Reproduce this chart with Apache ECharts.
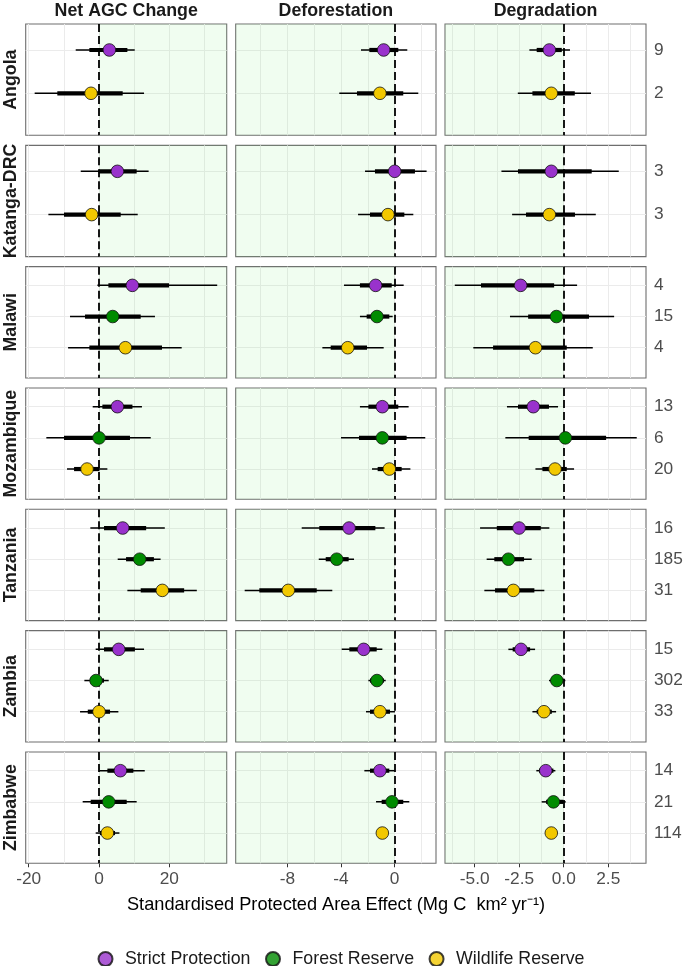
<!DOCTYPE html>
<html><head><meta charset="utf-8">
<script src="https://cdn.jsdelivr.net/npm/echarts@6/dist/echarts.min.js"></script>
<style>html,body{margin:0;padding:0;background:#fff}#c{width:685px;height:966px}</style>
</head><body><div id="c"></div>
<script>
// ---------------- DATA ----------------
const countries = ['Angola','Katanga-DRC','Malawi','Mozambique','Tanzania','Zambia','Zimbabwe'];
const metrics = ['Net AGC Change','Deforestation','Degradation'];
const protectionTypes = ['Strict Protection','Forest Reserve','Wildlife Reserve'];
// protection types present in each country (index into protectionTypes), top to bottom
const countryTypes = [[0,2],[0,2],[0,1,2],[0,1,2],[0,1,2],[0,1,2],[0,1,2]];
// sample sizes shown on the right, same order
const sampleSizes = [[9,2],[3,3],[4,15,4],[13,6,20],[16,185,31],[15,302,33],[14,21,114]];
// each entry: [estimate, lower66, upper66, lower95, upper95]
const netAGC = [
  [[2.94,-2.75,8.06,-6.63,10.15],[-2.28,-11.86,6.73,-18.3,12.8]],
  [[5.22,-0.1,10.7,-5.2,14.1],[-2.09,-9.96,6.16,-14.4,11.0]],
  [[9.48,2.66,19.9,-0.47,33.6],[3.88,-3.98,11.85,-8.25,15.9],[7.49,-2.75,17.9,-8.8,23.5]],
  [[5.22,0.95,9.5,-1.8,12.2],[0.0,-9.96,8.8,-14.98,14.7],[-3.41,-7.1,0.1,-9.1,2.37]],
  [[6.73,1.42,13.4,-2.47,18.7],[11.57,7.68,15.6,5.31,17.5],[18.0,11.85,24.2,8.06,27.8]],
  [[5.6,1.42,10.2,-0.95,12.8],[-0.85,-2.56,1.42,-4.17,2.75],[0.0,-3.2,3.13,-5.4,5.5]],
  [[6.07,2.37,9.77,0.1,13.0],[2.75,-2.37,7.87,-4.65,10.7],[2.37,0.28,4.55,-0.95,5.8]]
];
const deforestation = [
  [[-0.82,-1.89,0.27,-2.51,0.94],[-1.1,-2.81,0.64,-4.13,1.76]],
  [[0.0,-1.47,1.51,-2.21,2.38],[-0.5,-1.84,0.72,-2.73,1.39]],
  [[-1.42,-2.59,-0.22,-3.78,0.67],[-1.32,-2.09,-0.4,-2.59,-0.15],[-3.5,-4.77,-2.06,-5.39,-0.82]],
  [[-0.92,-1.96,0.27,-2.59,1.04],[-0.92,-2.66,0.89,-4.0,2.28],[-0.4,-1.27,0.52,-1.69,1.17]],
  [[-3.4,-5.62,-1.44,-6.93,-0.75],[-4.32,-5.14,-3.43,-5.66,-3.03],[-7.93,-10.09,-5.81,-11.18,-4.65]],
  [[-2.31,-3.38,-1.34,-3.95,-0.92],[-1.32,-1.84,-0.8,-1.96,-0.67],[-1.1,-1.84,-0.35,-2.14,0.02]],
  [[-1.1,-1.84,-0.4,-2.26,0.0],[-0.2,-0.97,0.64,-1.39,1.09],[-0.92,-1.22,-0.6,-1.32,-0.5]]
];
const degradation = [
  [[-0.81,-1.52,-0.11,-1.93,0.35],[-0.7,-1.76,0.62,-2.58,1.53]],
  [[-0.7,-2.57,1.57,-3.5,3.09],[-0.81,-2.12,0.63,-2.9,1.8]],
  [[-2.42,-4.65,-0.54,-6.12,0.75],[-0.41,-2.0,1.42,-3.02,2.83],[-1.59,-3.97,0.17,-5.08,1.63]],
  [[-1.71,-2.57,-0.83,-3.19,-0.32],[0.09,-1.97,2.38,-3.28,4.1],[-0.49,-1.2,0.17,-1.59,0.58]],
  [[-2.51,-3.76,-1.29,-4.7,-0.81],[-3.11,-3.9,-2.23,-4.33,-1.8],[-2.83,-3.86,-1.65,-4.46,-1.09]],
  [[-2.4,-2.87,-1.89,-3.11,-1.61],[-0.39,-0.73,-0.02,-0.83,0.09],[-1.11,-1.52,-0.67,-1.76,-0.43]],
  [[-1.01,-1.39,-0.58,-1.54,-0.47],[-0.58,-0.99,-0.02,-1.24,0.11],[-0.7,-0.9,-0.5,-1.0,-0.4]]
];
// tick labels and grid lines per column
const agcTicks = [-20,0,20];
const agcGridLines = [-20,-10,0,10,20,30];
const defTicks = [-8,-4,0];
const defGridLines = [-10,-8,-6,-4,-2,0,2];
const degTicks = [-5,-2.5,0,2.5];
const degGridLines = [-6.25,-5,-3.75,-2.5,-1.25,0,1.25,2.5,3.75];
const axisTitle = 'Standardised Protected Area Effect (Mg C  km\u00B2 yr\u207B\u00B9)';

// ---------------- LAYOUT / STYLE ----------------
const typeColors = ['#9932CC','#008B00','#F2C800'];
const colData = [netAGC, deforestation, degradation];
const colTicks = [agcTicks, defTicks, degTicks];
const colGridLines = [agcGridLines, defGridLines, degGridLines];
const colRange = [[-20.85,36.3],[-11.85,3.08],[-6.67,4.62]];
const colLeft = [25.7, 235.7, 445];
const colWidth = [201, 200.3, 201];
const rowTop0 = 24, rowPitch = 121.33, rowH = 111.3;
const FONT = '"Liberation Sans", Arial, Helvetica, sans-serif';
const TICK_FS = 17.3, STRIP_FS = 17.8;

const grids = [], xAxes = [], yAxes = [], series = [];

function renderItem(params, api) {
  const row = api.value(0);
  const p = api.coord([api.value(1), row]);
  const l66 = api.coord([api.value(2), row]);
  const h66 = api.coord([api.value(3), row]);
  const l95 = api.coord([api.value(4), row]);
  const h95 = api.coord([api.value(5), row]);
  const t = api.value(6);
  return {
    type: 'group',
    children: [
      {type: 'line', shape: {x1: l95[0], y1: p[1], x2: h95[0], y2: p[1]}, style: {stroke: '#000', lineWidth: 1.5}},
      {type: 'line', shape: {x1: l66[0], y1: p[1], x2: h66[0], y2: p[1]}, style: {stroke: '#000', lineWidth: 4.2}},
      {type: 'circle', shape: {cx: p[0], cy: p[1], r: 6.3}, style: {fill: typeColors[t], stroke: '#111', lineWidth: 0.8}}
    ]
  };
}

let gi = 0;
for (let r = 0; r < countries.length; r++) {
  const n = countryTypes[r].length;
  const rows = countryTypes[r].map((_, i) => i + 1);
  for (let c = 0; c < 3; c++) {
    const isBottom = r === countries.length - 1;
    grids.push({
      left: colLeft[c], top: rowTop0 + r * rowPitch, width: colWidth[c], height: rowH,
      show: true, backgroundColor: '#fff', borderColor: '#6e6e6e', borderWidth: 1.1,
      containLabel: false, outerBoundsMode: 'none'
    });
    const ticks = colTicks[c];
    xAxes.push({
      type: 'value', gridIndex: gi, min: colRange[c][0], max: colRange[c][1],
      show: isBottom,
      axisLine: {show: false},
      axisTick: {show: true, customValues: ticks, length: 4, lineStyle: {color: '#333', width: 1}},
      axisLabel: {show: true, customValues: ticks, margin: 7, color: '#4D4D4D', fontSize: TICK_FS, fontFamily: FONT,
        formatter: v => c === 2 ? Number(v).toFixed(1) : String(v)},
      splitLine: {show: false}
    });
    yAxes.push({
      type: 'value', gridIndex: gi, min: 0.4, max: n + 0.97, inverse: true,
      position: 'right', show: c === 2,
      axisLine: {show: false},
      axisTick: {show: true, customValues: rows, length: 4.5, lineStyle: {color: '#333', width: 1}},
      axisLabel: {show: true, customValues: rows, margin: 8, color: '#4D4D4D', fontSize: TICK_FS, fontFamily: FONT,
        formatter: v => String(sampleSizes[r][Math.round(v) - 1])},
      splitLine: {show: false}
    });
    // grid lines
    series.push({
      type: 'line', xAxisIndex: gi, yAxisIndex: gi, data: [], silent: true, z: 1,
      markLine: {
        silent: true, symbol: ['none','none'], z: 1, label: {show: false}, animation: false,
        lineStyle: {color: '#EBEBEB', width: 1, type: 'solid'},
        emphasis: {disabled: true},
        data: colGridLines[c].map(v => ({xAxis: v})).concat(rows.map(v => ({yAxis: v})))
      }
    });
    // shaded "protective" side + zero line
    const shade = c === 0 ? [0, colRange[c][1]] : [colRange[c][0], 0];
    series.push({
      type: 'line', xAxisIndex: gi, yAxisIndex: gi, data: [], silent: true, z: 2,
      markArea: {
        silent: true, z: 2, animation: false,
        itemStyle: {color: 'rgba(150,240,150,0.14)'},
        emphasis: {disabled: true},
        data: [[{xAxis: shade[0]}, {xAxis: shade[1]}]]
      },
      markLine: {
        silent: true, symbol: ['none','none'], z: 3, label: {show: false}, animation: false,
        lineStyle: {color: '#000', width: 1.8, type: [8,4]},
        emphasis: {disabled: true},
        data: [{xAxis: 0}]
      }
    });
    // points with intervals
    const vals = colData[c][r];
    series.push({
      type: 'custom', xAxisIndex: gi, yAxisIndex: gi, z: 10, silent: true,
      renderItem: renderItem,
      encode: {x: 1, y: 0},
      data: vals.map((v, i) => [i + 1, v[0], v[1], v[2], v[3], v[4], countryTypes[r][i]])
    });
    gi++;
  }
}

// legend-only series
protectionTypes.forEach((name, i) => {
  series.push({
    type: 'scatter', name: name, xAxisIndex: 0, yAxisIndex: 0, data: [],
    itemStyle: {color: typeColors[i], borderColor: '#111', borderWidth: 0.8}
  });
});

const graphics = [];
metrics.forEach((m, c) => {
  graphics.push({type: 'text', x: colLeft[c] + colWidth[c] / 2, y: 11,
    style: {text: m, font: 'bold ' + STRIP_FS + 'px ' + FONT, fill: '#1A1A1A', align: 'center', verticalAlign: 'middle'}});
});
countries.forEach((name, r) => {
  graphics.push({type: 'text', x: 11, y: rowTop0 + r * rowPitch + rowH / 2, rotation: Math.PI / 2,
    style: {text: name, font: 'bold ' + STRIP_FS + 'px ' + FONT, fill: '#1A1A1A', align: 'center', verticalAlign: 'middle'}});
});
graphics.push({type: 'text', x: 336, y: 905,
  style: {text: axisTitle, font: '18.2px ' + FONT, fill: '#000', align: 'center', verticalAlign: 'middle'}});

const chart = echarts.init(document.getElementById('c'), null, {renderer: 'canvas'});
chart.setOption({
  animation: false,
  backgroundColor: '#fff',
  grid: grids, xAxis: xAxes, yAxis: yAxes, series: series,
  graphic: graphics,
  legend: {
    data: protectionTypes, left: 92.5, top: 945, icon: 'circle',
    itemWidth: 29, itemHeight: 14, itemGap: 14.5,
    textStyle: {fontSize: 17.8, color: '#1A1A1A', fontFamily: FONT},
    selectedMode: false
  }
});
</script></body></html>
